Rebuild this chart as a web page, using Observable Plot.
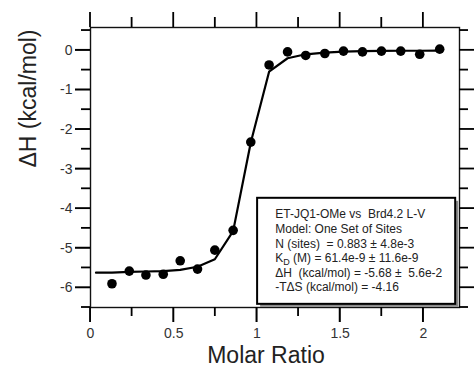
<!DOCTYPE html>
<html><head><meta charset="utf-8">
<script src="https://cdn.jsdelivr.net/npm/d3@7"></script>
<script src="https://cdn.jsdelivr.net/npm/@observablehq/plot@0.6"></script>
<style>
html,body{margin:0;padding:0;background:#fff;}
#chart{position:absolute;left:0;top:0;}
</style>
</head><body><div id="chart"></div>
<script>
// ---- data ----
const molarRatio = [0.129, 0.233, 0.333, 0.437, 0.539, 0.643, 0.747, 0.857, 0.963, 1.073, 1.184, 1.293, 1.408, 1.520, 1.634, 1.748, 1.864, 1.978, 2.098];
const deltaH     = [-5.90, -5.58, -5.68, -5.66, -5.32, -5.53, -5.05, -4.55, -2.32, -0.37, -0.04, -0.13, -0.08, -0.02, -0.04, -0.02, -0.02, -0.10, 0.03];
const fitRatio   = [0.033, 0.129, 0.233, 0.333, 0.437, 0.539, 0.643, 0.747, 0.857, 0.963, 1.073, 1.184, 1.293, 1.408, 1.520, 1.634, 1.748, 1.864, 1.978, 2.098];
const fitDeltaH  = [-5.62, -5.62, -5.60, -5.59, -5.58, -5.55, -5.47, -5.28, -4.57, -2.33, -0.54, -0.20, -0.10, -0.06, -0.035, -0.02, -0.015, -0.01, -0.01, -0.005];
const xMajorTicks = [0, 0.5, 1, 1.5, 2];
const xMinorTicks = [0.25, 0.75, 1.25, 1.75];
const yMajorTicks = [0, -1, -2, -3, -4, -5, -6];
const yMinorTicks = [0.5, -0.5, -1.5, -2.5, -3.5, -4.5, -5.5, -6.5];
const xTitle = "Molar Ratio";
const yTitle = "ΔH (kcal/mol)";
const legendLines = [
  "ET-JQ1-OMe vs  Brd4.2 L-V",
  "Model: One Set of Sites",
  "N (sites)  = 0.883 ± 4.8e-3",
  "KD (M) = 61.4e-9 ± 11.6e-9",
  "ΔH  (kcal/mol) = -5.68 ±  5.6e-2",
  "-TΔS (kcal/mol) = -4.16"
];

const points = molarRatio.map((x, i) => ({x, y: deltaH[i]}));
const fit = fitRatio.map((x, i) => ({x, y: fitDeltaH[i]}));
const fmt = d => String(d);
const ink = "#111";

const W = 476, H = 376, mL = 90, mR = 17, mT = 27, mB = 69;
const xDom = [0, 2.217], yDom = [-6.5, 0.577];

const chart = Plot.plot({
  width: W,
  height: H,
  marginLeft: mL,
  marginRight: mR,
  marginTop: mT,
  marginBottom: mB,
  style: {fontFamily: "'Liberation Sans', Arial, sans-serif", background: "#fff", color: ink},
  x: {domain: xDom, axis: null},
  y: {domain: yDom, axis: null},
  marks: [
    Plot.axisX({anchor: "bottom", ticks: xMajorTicks, tickSize: 15, tickPadding: 6, tickFormat: fmt, label: null, fontSize: 14, color: "#333"}),
    Plot.axisY({anchor: "left", ticks: yMajorTicks, tickSize: 15, tickPadding: 3, tickFormat: fmt, label: null, fontSize: 14, color: "#333"}),
    Plot.frame({stroke: ink, strokeWidth: 1.4}),
    Plot.line(fit, {x: "x", y: "y", stroke: "#000", strokeWidth: 2.2}),
    Plot.dot(points, {x: "x", y: "y", r: 4.8, fill: "#000", stroke: "none"}),
    Plot.rect([0], {x1: () => 1.004, x2: () => 2.194, y1: () => -6.42, y2: () => -3.74, dx: 3, dy: 3, fill: "#8a8a8a"}),
    Plot.rect([0], {x1: () => 1.004, x2: () => 2.194, y1: () => -6.42, y2: () => -3.74, fill: "#fff", stroke: "#000", strokeWidth: 2}),
    Plot.text(legendLines, {x: () => 1.11, y: (d, i) => -4.15 - i * 0.369, text: d => d, textAnchor: "start", fontSize: 12, fill: "#222"}),
    Plot.text([xTitle], {frameAnchor: "bottom", text: d => d, dy: 55, dx: -9, fontSize: 23, fill: "#222"}),
    Plot.text([yTitle], {frameAnchor: "left", text: d => d, rotate: -90, dx: -62, fontSize: 23, fill: "#222"})
  ]
});

// outward tick marks on all four sides, drawn as thin filled bars placed with the chart's own scales
const svg = d3.select(chart);
const sx = chart.scale("x"), sy = chart.scale("y");
const fx0 = sx.apply(xDom[0]), fx1 = sx.apply(xDom[1]);
const fy0 = sy.apply(yDom[0]), fy1 = sy.apply(yDom[1]);
const tw = 1.8;
const g = svg.append("g").attr("fill", "#000");
function vTicks(vals, y0, len) {
  for (const v of vals) {
    const px = sx.apply(v);
    g.append("rect").attr("x", px - tw / 2).attr("width", tw)
      .attr("y", Math.min(y0, y0 + len)).attr("height", Math.abs(len));
  }
}
function hTicks(vals, x0, len) {
  for (const v of vals) {
    const py = sy.apply(v);
    g.append("rect").attr("y", py - tw / 2).attr("height", tw)
      .attr("x", Math.min(x0, x0 + len)).attr("width", Math.abs(len));
  }
}
vTicks(xMajorTicks, fy0, 15);
vTicks(xMinorTicks, fy0, 9);
vTicks(xMajorTicks, fy1, -15);
vTicks(xMinorTicks, fy1, -10);
hTicks(yMajorTicks, fx0, -15);
hTicks(yMinorTicks, fx0, -9);
hTicks(yMajorTicks, fx1, 15);
hTicks(yMinorTicks, fx1, 9);

// subscript "D" in K_D and preserved double spaces
svg.selectAll("text").each(function() {
  const t = this.textContent;
  if (t.startsWith("KD ")) {
    const el = d3.select(this);
    el.text("K");
    el.append("tspan").attr("dy", 3).attr("font-size", 9).text("D");
    el.append("tspan").attr("dy", -3).text(t.slice(2));
  }
  if (t.includes("  ")) d3.select(this).attr("xml:space", "preserve").style("white-space", "pre");
});

document.getElementById("chart").appendChild(chart);
</script>
</body></html>
